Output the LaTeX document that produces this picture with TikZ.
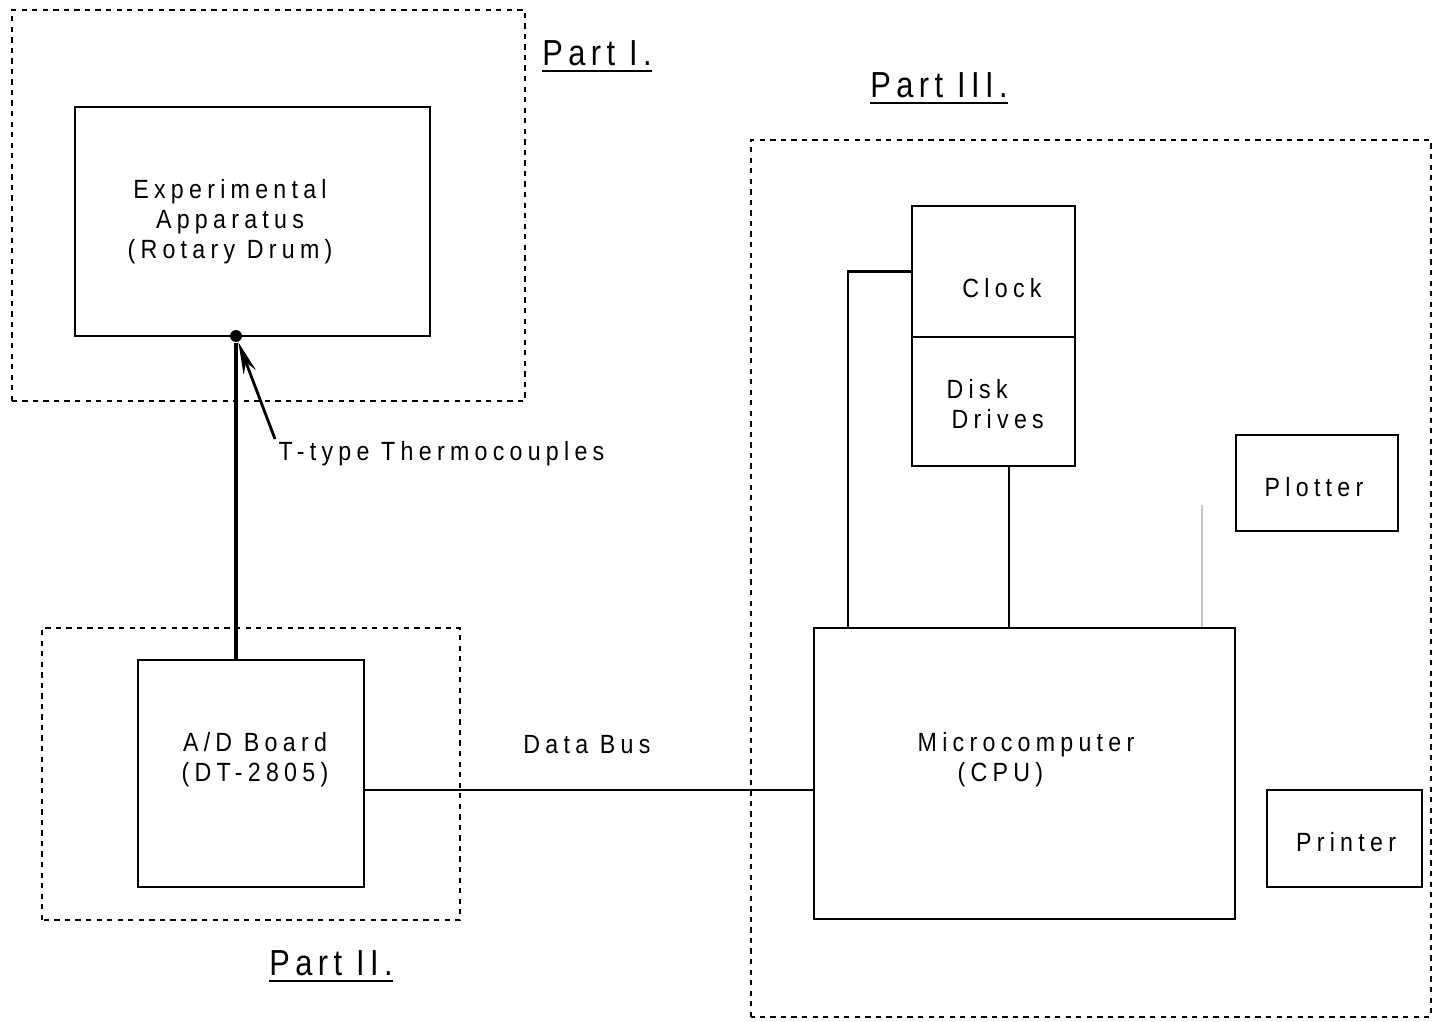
\documentclass[tikz,border=0pt]{standalone}
\usepackage{fontspec}
\setmainfont{Liberation Sans}[FakeStretch=0.88,LetterSpace=20]
\newfontfamily\partfont{Liberation Sans}[FakeStretch=0.85,LetterSpace=15]
\usetikzlibrary{arrows.meta}

\begin{document}
\begin{tikzpicture}[every node/.style={font=\fontsize{7.5}{8.5}\selectfont}]
  \tikzstyle{box}=[draw,line width=0.6pt,inner sep=0pt]
  \tikzstyle{part}=[line width=0.5pt,dash pattern=on 1.5pt off 1.5pt]
  \tikzstyle{lbl}=[align=center,inner sep=0pt]
  \tikzstyle{ttl}=[font=\partfont\fontsize{10.3}{12}\selectfont,inner sep=0pt]
  \useasboundingbox (0,0) rectangle (14.35,10.21);
  % dashed groups
  \draw[part] (0.12,6.20) rectangle (5.25,10.11);
  \draw[part] (0.42,1.01) rectangle (4.60,3.93);
  \draw[part] (7.51,0.04) rectangle (14.31,8.81);
  \node[ttl] (p1) at (5.97,9.64) {\underline{Part I.}};
  \node[ttl] (p2) at (3.31,0.54) {\underline{Part II.}};
  \node[ttl] (p3) at (9.39,9.32) {\underline{Part III.}};
  % boxes
  \node[box,minimum width=3.55cm,minimum height=2.29cm] (app) at (2.525,7.995) {};
  \node[box,minimum width=2.26cm,minimum height=2.27cm] (adb) at (2.51,2.475) {};
  \node[box,minimum width=1.63cm,minimum height=1.31cm] (clk) at (9.935,7.495) {};
  \node[box,minimum width=1.63cm,minimum height=1.29cm] (dsk) at (9.935,6.195) {};
  \node[box,minimum width=4.21cm,minimum height=2.91cm] (cpu) at (10.245,2.475) {};
  \node[box,minimum width=1.62cm,minimum height=0.96cm] (plt) at (13.17,5.38) {};
  \node[box,minimum width=1.55cm,minimum height=0.97cm] (prn) at (13.445,1.825) {};
  % texts
  \node[lbl] (apptxt) at (2.30,7.99) {Experimental\\Apparatus\\(Rotary Drum)};
  \node[lbl] (adbtxt) at (2.55,2.61) {A/D Board\\(DT-2805)};
  \node[lbl] (clktxt) at (10.02,7.33) {Clock};
  \node[lbl,align=left,anchor=west] (dsktxt) at (9.46,6.17) {Disk\\\hspace*{0.05cm}Drives};
  \node[lbl] (plttxt) at (13.14,5.34) {Plotter};
  \node[lbl,align=left,anchor=west] (cputxt) at (9.17,2.61) {Microcomputer\\\hspace*{0.4cm}(CPU)};
  \node[lbl] (prntxt) at (13.46,1.79) {Printer};
  \node[lbl] (bustxt) at (5.87,2.76) {Data Bus};
  \node[lbl,anchor=west] (tctxt) at (2.78,5.67) {T-type Thermocouples};
  % thermocouple
  \node[circle,fill,inner sep=0pt,minimum size=0.12cm] (tc) at (2.36,6.85) {};
  \draw[line width=1pt] (tc) -- (tc |- adb.north);
  \coordinate (tctail) at (2.75,5.82);
  \draw[line width=0.8pt,-{Stealth[length=3.2mm,width=1.3mm]}] (tctail) -- (tc);
  % connections
  \coordinate (bus) at (3.64,2.31);
  \draw[line width=0.6pt] (bus) -- (bus -| cpu.west);
  \coordinate (bend) at (8.48,0);
  \draw[line width=0.6pt] (clk.west) -| (bend |- cpu.north);
  \coordinate (dl) at (10.09,0);
  \draw[line width=0.6pt] (dl |- dsk.south) -- (dl |- cpu.north);
  \coordinate (fl) at (12.02,5.16);
  \draw[gray!45,line width=0.4pt] (fl) -- (fl |- cpu.north);
\end{tikzpicture}
\end{document}
